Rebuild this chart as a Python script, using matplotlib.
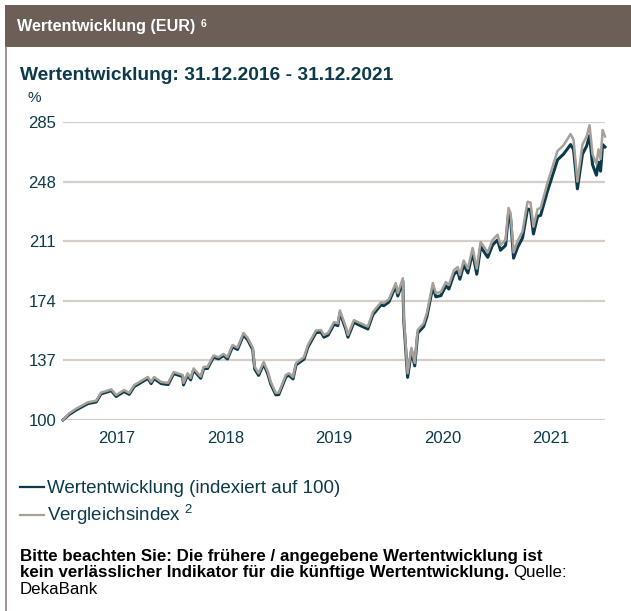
import matplotlib
matplotlib.use("Agg")
import matplotlib.pyplot as plt
import numpy as np
from matplotlib.patches import Rectangle
from matplotlib.lines import Line2D

plt.rcParams['font.family'] = ['Liberation Sans', 'DejaVu Sans']
plt.rcParams['mathtext.fontset'] = 'custom'
plt.rcParams['mathtext.rm'] = 'Liberation Sans'

# values (index, 31.12.2016 = 100)
dates = ["2016-12-31", "2017-01-20", "2017-02-13", "2017-03-05", "2017-03-25", "2017-04-22",
         "2017-05-08", "2017-06-12", "2017-06-28", "2017-07-25", "2017-08-11", "2017-08-28",
         "2017-10-13", "2017-10-24", "2017-11-03", "2017-11-27", "2017-12-20", "2018-01-08",
         "2018-02-07", "2018-02-10", "2018-02-24", "2018-03-06", "2018-03-16", "2018-04-09",
         "2018-04-19", "2018-05-02", "2018-05-22", "2018-06-08", "2018-06-25", "2018-07-08",
         "2018-07-25", "2018-08-11", "2018-08-31", "2018-09-14", "2018-10-01", "2018-10-08",
         "2018-10-21", "2018-11-07", "2018-11-21", "2018-12-01", "2018-12-18", "2018-12-28",
         "2019-01-21", "2019-01-31", "2019-02-14", "2019-02-24", "2019-03-23", "2019-04-05",
         "2019-05-02", "2019-05-19", "2019-05-29", "2019-06-12", "2019-07-02", "2019-07-15",
         "2019-07-22", "2019-08-11", "2019-08-18", "2019-09-07", "2019-09-30", "2019-10-24",
         "2019-11-10", "2019-12-07", "2019-12-17", "2020-01-03", "2020-01-26", "2020-02-02",
         "2020-02-19", "2020-02-22", "2020-03-06", "2020-03-19", "2020-03-30", "2020-04-09",
         "2020-04-29", "2020-05-10", "2020-05-30", "2020-06-09", "2020-06-26", "2020-07-13",
         "2020-07-23", "2020-08-09", "2020-08-22", "2020-08-29", "2020-09-11", "2020-09-25",
         "2020-10-11", "2020-10-25", "2020-11-07", "2020-12-01", "2020-12-17", "2021-01-03",
         "2021-01-13", "2021-01-30", "2021-02-09", "2021-02-16", "2021-02-26", "2021-03-11",
         "2021-03-28", "2021-04-14", "2021-04-24", "2021-05-04", "2021-05-18", "2021-05-28",
         "2021-06-20", "2021-07-24", "2021-08-13", "2021-09-06", "2021-09-16", "2021-09-29",
         "2021-10-16", "2021-10-30", "2021-11-09", "2021-11-19", "2021-12-02", "2021-12-09",
         "2021-12-16", "2021-12-23", "2021-12-31"]

index_vals = [100, 104, 107, 109, 111, 112, 117, 119, 115.5, 118.6, 116.8, 121.7,
              126.7, 123.6, 126.7, 123.6, 123, 129.8, 128, 123, 129, 126, 132, 127,
              133, 133, 140, 139, 141, 139, 146.5, 145, 154, 151, 145, 133,
              129, 136, 130, 123.6, 116.8, 117, 128, 129, 126.7, 135.4, 139, 146.5,
              155.5, 155.9, 152.8, 154, 160.8, 160, 168, 157.7, 152.8, 162, 160, 158,
              167, 173, 172.6, 175, 185, 178.8, 188, 164, 129, 144.7, 135.4, 155.9,
              160, 166.4, 185, 178.8, 179.5, 185.7, 183.8, 193, 195, 190, 199, 194,
              206.8, 194, 210.5, 204, 211.7, 215, 208.6, 211.7, 231.6, 228.5, 204, 211,
              217, 235.5, 235, 220, 231, 231.5, 247, 267, 270.5, 277.5, 274, 248,
              271, 276, 283, 265, 259, 268, 262, 280, 276]

fund_vals = [100, 103.3, 106.2, 108.2, 110.2, 111.2, 116.2, 118.2, 114.6, 117.7, 115.9, 120.8,
             125.8, 122.6, 125.7, 122.6, 122, 128.8, 127, 121.8, 128, 124.9, 131, 125.9,
             132, 132, 139, 138, 140, 137.9, 145.4, 143.8, 152.8, 149.8, 143.8, 131.6,
             127.7, 134.8, 128.6, 122.3, 115.6, 115.8, 126.8, 127.8, 125.5, 134.2, 137.8, 145.2,
             154.2, 154.6, 151.4, 152.7, 159.4, 158.6, 166.6, 156.2, 151.4, 160.6, 158.5, 156.5,
             165.4, 171.4, 171, 173.3, 183.2, 177, 186.2, 162, 126.5, 143, 133.6, 154,
             158, 164.3, 182.8, 176.5, 177.2, 183.3, 181.3, 190.5, 192.4, 187.4, 196.3, 191.3,
             204, 190.5, 207.6, 201, 208.6, 211.8, 205.4, 208.4, 228, 225, 200.5, 207,
             213, 231, 230.5, 215.5, 226.5, 227, 242, 261.5, 265, 271, 268, 243.5,
             265, 270, 276.5, 258.5, 252, 260, 254.5, 271, 269.5]

y_ticks = [100, 137, 174, 211, 248, 285]
years = [2017, 2018, 2019, 2020, 2021]

labels = ["Wertentwicklung (indexiert auf 100)", "Vergleichsindex $^{2}$"]

dark = "#0b3a4b"
grey = "#a7a099"
grid_c = "#d3cec8"
brown = "#6b5f58"

W, H = 631, 611
fig = plt.figure(figsize=(W / 100, H / 100), dpi=100)

# header band + left frame line
fig.patches.append(Rectangle((5 / W, 1 - 47 / H), 1, 42 / H, transform=fig.transFigure,
                             facecolor=brown, edgecolor="none"))
fig.lines.append(Line2D([6 / W, 6 / W], [0, 1 - 47 / H], transform=fig.transFigure,
                        color="#8c807a", lw=1.2))
hdr = fig.text(17 / W, 1 - 26 / H, "Wertentwicklung (EUR)", color="white", fontsize=11.6,
               fontweight="bold", va="center", ha="left")
fig.text(20 / W, 1 - 75 / H, "Wertentwicklung: 31.12.2016 - 31.12.2021", color=dark,
         fontsize=13.8, fontweight="bold", va="center", ha="left")
fig.text(27 / W, 1 - 98 / H, "%", color=dark, fontsize=11, va="center", ha="left")

ax = fig.add_axes([63 / W, 1 - 420 / H, (605 - 63) / W, (420 - 122) / H])
x = np.array(dates, dtype="datetime64[D]")
l1, = ax.plot(x, fund_vals, color=dark, lw=2.2, clip_on=False, zorder=3)
l2, = ax.plot(x, index_vals, color=grey, lw=1.8, clip_on=False, zorder=4)

ax.set_ylim(100, 285)
ax.set_xlim(np.datetime64("2016-12-31"), np.datetime64("2021-12-31"))
ax.set_yticks(y_ticks)
ax.set_yticklabels([str(v) for v in y_ticks])
ax.set_xticks([np.datetime64(f"{y}-07-01") for y in years])
ax.set_xticklabels([str(y) for y in years])
ax.tick_params(length=0, colors=dark, labelsize=12)
ax.tick_params(axis="y", pad=5)
ax.tick_params(axis="x", pad=8)
for s in ax.spines.values():
    s.set_visible(False)
ax.grid(axis="y", color=grid_c, lw=1.6)
ax.set_axisbelow(True)

# superscript 6 in header
fig.canvas.draw()
bb = hdr.get_window_extent(fig.canvas.get_renderer())
fig.text((bb.x1 + 5) / W, 1 - 24 / H, "6", color="white", fontsize=7.5, fontweight="bold",
         va="center", ha="left")

leg = fig.legend([l1, l2], labels, loc="upper left", bbox_to_anchor=(20 / W, 1 - 480 / H),
                 frameon=False, fontsize=13.5, handlelength=1.3, handletextpad=0.12,
                 labelspacing=0.28, borderpad=0, borderaxespad=0)
for t in leg.get_texts():
    t.set_color(dark)
for h in leg.legend_handles:
    h.set_linewidth(1.6)

fs = 12.2
fig.text(20 / W, 1 - 556 / H, "Bitte beachten Sie: Die frühere / angegebene Wertentwicklung ist",
         fontsize=fs, fontweight="bold", va="center", ha="left", color="black")
t2 = fig.text(20 / W, 1 - 573 / H, "kein verlässlicher Indikator für die künftige Wertentwicklung.",
              fontsize=fs, fontweight="bold", va="center", ha="left", color="black")
fig.canvas.draw()
bb2 = t2.get_window_extent(fig.canvas.get_renderer())
fig.text((bb2.x1 + 4) / W, 1 - 573 / H, "Quelle:", fontsize=fs, va="center", ha="left",
         color="black")
fig.text(20 / W, 1 - 590 / H, "DekaBank", fontsize=fs, va="center", ha="left", color="black")

fig.savefig("out.png", dpi=100)
